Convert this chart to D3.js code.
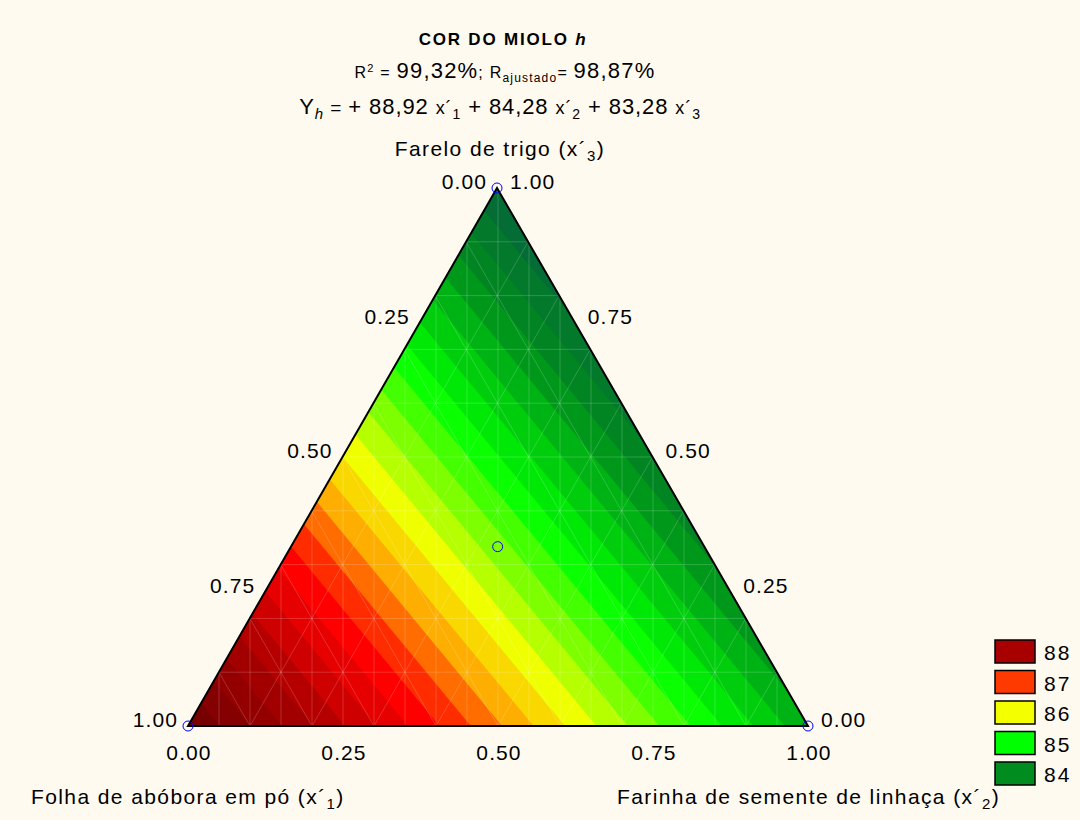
<!DOCTYPE html>
<html>
<head>
<meta charset="utf-8">
<script src="https://cdn.jsdelivr.net/npm/d3@7"></script>
<style>
  html, body { margin: 0; padding: 0; background: #fffaf0; }
  svg { display: block; font-family: "Liberation Sans", Arial, sans-serif; }
</style>
</head>
<body>
<svg id="chart"></svg>
<script>
// Coeficientes do modelo linear Y = b1 x´1 + b2 x´2 + b3 x´3
const coefs = [88.92, 84.28, 83.28];
const nLevels = 24;

// Escala de cores (valor -> cor)
const colorStops = [83.28, 84, 85, 86, 86.5, 86.85, 87.15, 88, 88.92];
const colorStopColors = ["#05673a", "#008c1e", "#00ff00", "#f4ff00", "#ffa500", "#ff3a00", "#ff0000", "#a80000", "#700000"];

// Legenda
const legendValues = [88, 87, 86, 85, 84];
const legendColors = ["#a80000", "#ff3a00", "#f4ff00", "#00ff00", "#008c1e"];

// Marcas dos eixos
const tickValues = [0, 0.25, 0.5, 0.75, 1];
const tickLabels = ["0.00", "0.25", "0.50", "0.75", "1.00"];

// Pontos do planejamento (x´1, x´2, x´3)
const designPoints = [[1, 0, 0], [0, 1, 0], [0, 0, 1], [1 / 3, 1 / 3, 1 / 3]];

const width = 1080, height = 820;
const svg = d3.select("#chart").attr("width", width).attr("height", height);

// Vértices do triângulo
const A = [188, 726];  // x´1 = 1
const B = [808, 726];  // x´2 = 1
const C = [497, 188];  // x´3 = 1
const proj = (x1, x2, x3) => [
  x1 * A[0] + x2 * B[0] + x3 * C[0],
  x1 * A[1] + x2 * B[1] + x3 * C[1]
];

// Grade de valores do modelo para as curvas de nível
const step = 2;
const x0 = A[0] - 10, y0 = C[1] - 10;
const nx = Math.ceil((B[0] - A[0] + 20) / step) + 1;
const ny = Math.ceil((A[1] - C[1] + 20) / step) + 1;
const xScale = d3.scaleLinear().domain([0, 1]).range([0, B[0] - A[0]]);
const yScale = d3.scaleLinear().domain([0, 1]).range([A[1], C[1]]);
const values = new Array(nx * ny);
for (let j = 0; j < ny; j++) {
  for (let i = 0; i < nx; i++) {
    const px = x0 + (i + 0.5) * step, py = y0 + (j + 0.5) * step;
    const x3 = yScale.invert(py);
    const x2 = xScale.invert(px - A[0] - x3 * (C[0] - A[0]));
    const x1 = 1 - x2 - x3;
    values[j * nx + i] = coefs[0] * x1 + coefs[1] * x2 + coefs[2] * x3;
  }
}
const vmin = d3.min(coefs), vmax = d3.max(coefs);
const levelStep = (vmax - vmin) / nLevels;
const thresholds = d3.range(nLevels).map(k => vmin + k * levelStep);
const color = d3.scaleLinear().domain(colorStops).range(colorStopColors);

const contours = d3.contours().size([nx, ny]).thresholds(thresholds)(values);
const path = d3.geoPath(d3.geoIdentity().scale(step).translate([x0, y0]));

const triPts = [A, B, C];
svg.append("clipPath").attr("id", "tri")
  .append("polygon").attr("points", triPts.map(p => p.join(",")).join(" "));

const plot = svg.append("g").attr("clip-path", "url(#tri)");
plot.append("polygon")
  .attr("points", triPts.map(p => p.join(",")).join(" "))
  .attr("fill", color(vmin + levelStep / 2));
plot.selectAll("path.band")
  .data(contours)
  .join("path")
  .attr("class", "band")
  .attr("d", path)
  .attr("fill", (d, i) => color(thresholds[i] + levelStep / 2))
  .attr("stroke", (d, i) => color(thresholds[i] + levelStep / 2))
  .attr("stroke-width", 0.3);

// Malha clara da triangulação
const mesh = plot.append("g")
  .attr("stroke", "#ffffff").attr("stroke-opacity", 0.18).attr("stroke-width", 1);
d3.range(1, 10).forEach(k => {
  const t = k / 10;
  [[proj(t, 1 - t, 0), proj(t, 0, 1 - t)],
   [proj(1 - t, t, 0), proj(0, t, 1 - t)],
   [proj(1 - t, 0, t), proj(0, 1 - t, t)]].forEach(s => {
    mesh.append("line")
      .attr("x1", s[0][0]).attr("y1", s[0][1])
      .attr("x2", s[1][0]).attr("y2", s[1][1]);
  });
});
d3.range(1, 20).forEach(k => {
  const x = A[0] + xScale(k / 20);
  mesh.append("line").attr("x1", x).attr("x2", x).attr("y1", C[1]).attr("y2", A[1]);
});

// Contorno do triângulo
svg.append("polygon")
  .attr("points", triPts.map(p => p.join(",")).join(" "))
  .attr("fill", "none").attr("stroke", "#000").attr("stroke-width", 2)
  .attr("stroke-linejoin", "miter");

// Rótulos dos eixos
const tickG = svg.append("g").attr("font-size", 21).attr("letter-spacing", 1.1).attr("fill", "#000");
tickValues.forEach((v, i) => {
  // base: x´2
  const pb = proj(1 - v, v, 0);
  tickG.append("text").attr("x", pb[0] + 1).attr("y", pb[1] + 34)
    .attr("text-anchor", "middle").text(tickLabels[i]);
  // lado esquerdo: x´1
  const pl = proj(v, 0, 1 - v);
  tickG.append("text").attr("x", pl[0] - 10).attr("y", pl[1] + 1)
    .attr("text-anchor", "end").text(tickLabels[i]);
  // lado direito: x´3
  const pr = proj(0, 1 - v, v);
  tickG.append("text").attr("x", pr[0] + 13).attr("y", pr[1] + 1)
    .attr("text-anchor", "start").text(tickLabels[i]);
});

// Pontos experimentais
svg.selectAll("circle.pt")
  .data(designPoints)
  .join("circle")
  .attr("class", "pt")
  .attr("cx", d => proj(...d)[0])
  .attr("cy", d => proj(...d)[1])
  .attr("r", 5)
  .attr("fill", "none")
  .attr("stroke", "#0000ff")
  .attr("stroke-width", 1);

// Títulos dos eixos
function axisTitle(x, y, anchor, main, sub) {
  const t = svg.append("text").attr("x", x).attr("y", y)
    .attr("text-anchor", anchor).attr("font-size", 21).attr("letter-spacing", 1.4);
  t.append("tspan").text(main);
  t.append("tspan").attr("font-size", 15).attr("dy", 5).text(sub);
  t.append("tspan").attr("dy", -5).text(")");
}
axisTitle(500, 156, "middle", "Farelo de trigo (x´", "3");
axisTitle(31, 804, "start", "Folha de abóbora em pó (x´", "1");
axisTitle(617, 804, "start", "Farinha de semente de linhaça (x´", "2");

// Título e estatísticas
svg.append("text").attr("x", 503).attr("y", 45).attr("text-anchor", "middle")
  .attr("font-size", 17).attr("font-weight", "bold").attr("letter-spacing", 1.8)
  .call(t => {
    t.append("tspan").text("COR DO MIOLO ");
    t.append("tspan").attr("font-style", "italic").text("h");
  });

svg.append("text").attr("x", 505).attr("y", 78).attr("text-anchor", "middle")
  .attr("font-size", 16).attr("letter-spacing", 1.2)
  .call(t => {
    t.append("tspan").text("R");
    t.append("tspan").attr("font-size", 11).attr("dy", -6).text("2");
    t.append("tspan").attr("dy", 6).text(" = ");
    t.append("tspan").attr("font-size", 22).text("99,32%");
    t.append("tspan").text("; R");
    t.append("tspan").attr("font-size", 12).attr("dy", 4).text("ajustado");
    t.append("tspan").attr("dy", -4).text("= ");
    t.append("tspan").attr("font-size", 22).text("98,87%");
  });

svg.append("text").attr("x", 500).attr("y", 114).attr("text-anchor", "middle")
  .attr("font-size", 22).attr("letter-spacing", 0.9)
  .call(t => {
    t.append("tspan").text("Y");
    t.append("tspan").attr("font-size", 15).attr("font-style", "italic").attr("dy", 5).text("h");
    t.append("tspan").attr("dy", -5).attr("font-size", 19).text(" = ");
    t.append("tspan").text("+ " + coefs[0].toFixed(2).replace(".", ",") + " ");
    t.append("tspan").attr("font-size", 18).text("x´");
    t.append("tspan").attr("font-size", 14).attr("dy", 5).text("1");
    t.append("tspan").attr("dy", -5).text(" + " + coefs[1].toFixed(2).replace(".", ",") + " ");
    t.append("tspan").attr("font-size", 18).text("x´");
    t.append("tspan").attr("font-size", 14).attr("dy", 5).text("2");
    t.append("tspan").attr("dy", -5).text(" + " + coefs[2].toFixed(2).replace(".", ",") + " ");
    t.append("tspan").attr("font-size", 18).text("x´");
    t.append("tspan").attr("font-size", 14).attr("dy", 5).text("3");
  });

// Legenda
const legend = svg.append("g").attr("transform", "translate(995, 640)");
const li = legend.selectAll("g")
  .data(legendValues)
  .join("g")
  .attr("transform", (d, i) => `translate(0, ${i * 30.5})`);
li.append("rect")
  .attr("width", 40).attr("height", 23)
  .attr("fill", (d, i) => legendColors[i])
  .attr("stroke", "#000").attr("stroke-width", 1.5);
li.append("text")
  .attr("x", 49).attr("y", 20)
  .attr("font-size", 21).attr("letter-spacing", 2)
  .text(d => d);
</script>
</body>
</html>
